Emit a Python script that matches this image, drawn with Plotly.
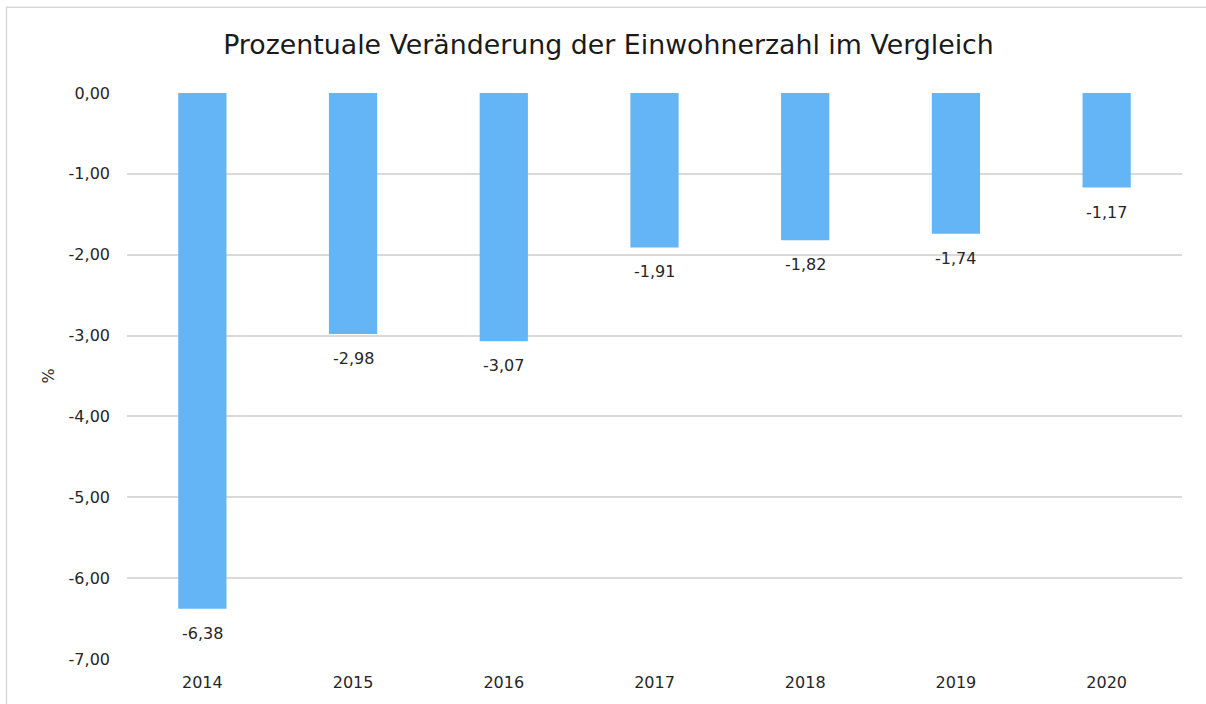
import plotly.graph_objects as go

years = ["2014", "2015", "2016", "2017", "2018", "2019", "2020"]
changes = [-6.38, -2.98, -3.07, -1.91, -1.82, -1.74, -1.17]
y_ticks = [0, -1, -2, -3, -4, -5, -6, -7]
y_ticktext = ["0,00", "-1,00", "-2,00", "-3,00", "-4,00", "-5,00", "-6,00", "-7,00"]

W, H = 1206, 704
L, R, T, B = 127, 24, 93, 43
pw, ph = W - L - R, H - T - B
FONT = "DejaVu Sans"
TXT = "#262626"

fig = go.Figure(go.Bar(
    x=years, y=changes, width=0.32,
    marker=dict(color="#64B5F6", line=dict(width=0)),
    hoverinfo="x+y",
))

# value labels below each bar end (category index positions)
for i, v in enumerate(changes):
    fig.add_annotation(x=i, y=v, text=f"{v:.2f}".replace(".", ","),
                       showarrow=False, yanchor="top", yshift=-13,
                       font=dict(size=16, color=TXT, family=FONT))

fig.update_layout(
    width=W, height=H,
    margin=dict(l=L, r=R, t=T, b=B),
    paper_bgcolor="white", plot_bgcolor="white",
    font=dict(family=FONT, size=16, color=TXT),
    title=dict(text="Prozentuale Veränderung der Einwohnerzahl im Vergleich",
               x=608.5 / W, xref="container", xanchor="center",
               y=1 - 45 / H, yanchor="middle",
               font=dict(size=26.8, color="#1a1a1a")),
    showlegend=False,
)
fig.update_xaxes(type="category", range=[-0.5, len(years) - 0.5],
                 showline=False, ticks="", tickfont=dict(size=16),
                 showgrid=False, zeroline=False, ticklabelstandoff=12)
fig.update_yaxes(range=[-7, 0], tickvals=y_ticks, ticktext=y_ticktext,
                 showgrid=True, gridcolor="#D9D9D9", gridwidth=1.5,
                 zeroline=False, ticks="", ticklabelstandoff=16,
                 tickfont=dict(size=16),
                 title=dict(text="%", font=dict(size=16), standoff=9))

# outer chart border (partially outside the image)
fig.add_shape(type="rect", xref="paper", yref="paper",
              x0=(6.5 - L) / pw, x1=(W + 20 - L) / pw,
              y0=-(60) / ph, y1=(H - B - 7) / ph,
              line=dict(color="#D9D9D9", width=1.5), fillcolor="rgba(0,0,0,0)",
              layer="below")

fig.write_html("out.html", config={"displayModeBar": False},
               post_script="document.body.style.margin='0';document.body.style.overflow='hidden';")
